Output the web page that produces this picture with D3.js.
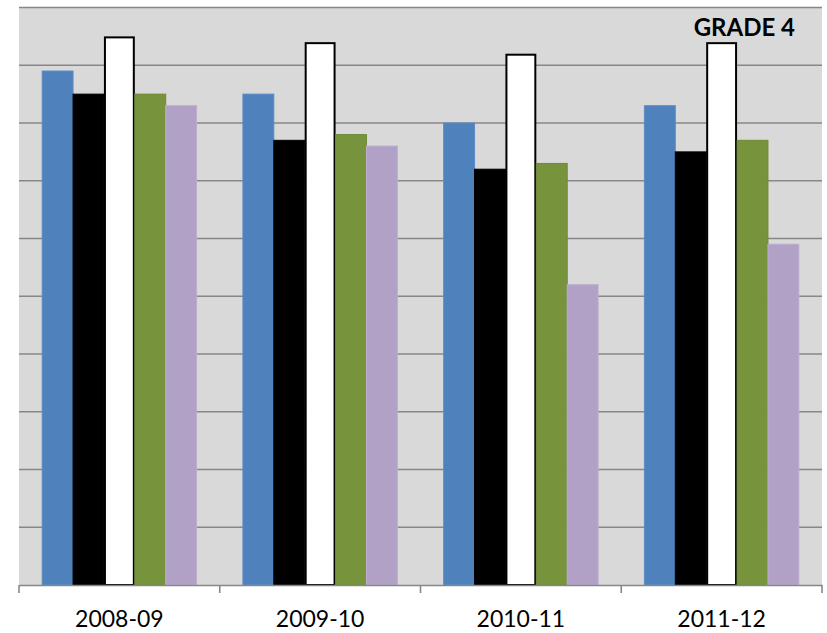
<!DOCTYPE html>
<html>
<head>
<meta charset="utf-8">
<script src="https://cdn.jsdelivr.net/npm/d3@7"></script>
<style>
  html, body { margin: 0; padding: 0; background: #ffffff; }
  svg { display: block; }
</style>
</head>
<body>
<svg id="chart" width="827" height="633"></svg>
<script>
// School years on the category axis
const categories = ["2008-09", "2009-10", "2010-11", "2011-12"];

// One series per bar within each year (percent)
const seriesNames = ["Series 1", "Series 2", "Series 3", "Series 4", "Series 5"];
const series1 = [89, 85, 80, 83];
const series2 = [85, 77, 72, 75];
const series3 = [95, 94, 92, 94];
const series4 = [85, 78, 73, 77];
const series5 = [83, 76, 52, 59];
const seriesValues = [series1, series2, series3, series4, series5];

const gridTicks = [0, 10, 20, 30, 40, 50, 60, 70, 80, 90, 100];
const chartTitle = "GRADE 4";

const fills   = ["#4f81bd", "#000000", "#ffffff", "#77933c", "#b2a1c7"];
const strokes = ["#5b8cc6", "#000000", "#000000", "#6f8a36", "#bcadd0"];
const strokeW = [1, 1, 2, 1, 1];

const svg = d3.select("#chart");
const plot = { left: 19, right: 822, top: 7.5, bottom: 585 };

const x0 = d3.scaleBand()
  .domain(categories)
  .range([plot.left, plot.right])
  .paddingInner(0)
  .paddingOuter(0);

const x1 = d3.scaleBand()
  .domain(d3.range(seriesNames.length))
  .range([0, x0.bandwidth()])
  .paddingInner(0)
  .paddingOuter(0.75);

const y = d3.scaleLinear()
  .domain([0, 100])
  .range([plot.bottom, plot.top]);

// Plot background
svg.append("rect")
  .attr("x", plot.left)
  .attr("y", plot.top)
  .attr("width", plot.right - plot.left)
  .attr("height", plot.bottom - plot.top)
  .attr("fill", "#d9d9d9");

// Horizontal gridlines
svg.append("g")
  .selectAll("line")
  .data(gridTicks.slice(1))
  .join("line")
  .attr("x1", plot.left)
  .attr("x2", plot.right)
  .attr("y1", d => y(d))
  .attr("y2", d => y(d))
  .attr("stroke", "#878787")
  .attr("stroke-width", 1.6);

// Bars
const rows = categories.map((c, i) => ({
  cat: c,
  vals: seriesValues.map((s, j) => ({ j, v: s[i] }))
}));

const groups = svg.append("g")
  .selectAll("g")
  .data(rows)
  .join("g")
  .attr("transform", d => `translate(${x0(d.cat)},0)`);

groups.selectAll("rect")
  .data(d => d.vals)
  .join("rect")
  .attr("x", d => x1(d.j) + (d.j === 2 ? 1 : 0))
  .attr("y", d => y(d.v) + (d.j === 2 ? 1 : 0))
  .attr("width", d => x1.bandwidth() - (d.j === 2 ? 2 : 0))
  .attr("height", d => y(0) - y(d.v) - (d.j === 2 ? 1 : 0))
  .attr("fill", d => fills[d.j])
  .attr("stroke", d => strokes[d.j])
  .attr("stroke-width", d => strokeW[d.j]);

// Category axis
const xAxis = d3.axisBottom(x0).tickSize(0).tickPadding(25.5);
const axisG = svg.append("g")
  .attr("transform", `translate(0,${plot.bottom})`)
  .call(xAxis);
axisG.select(".domain")
  .attr("stroke", "#878787")
  .attr("stroke-width", 1.6);
axisG.selectAll(".tick text")
  .attr("font-family", "Lato, 'Open Sans', sans-serif")
  .attr("font-size", 23)
  .attr("fill", "#000");

// Tick marks at category boundaries
const boundaries = categories.map(c => x0(c)).concat([x0(categories[categories.length - 1]) + x0.bandwidth()]);
svg.append("g")
  .selectAll("line")
  .data(boundaries)
  .join("line")
  .attr("x1", d => d)
  .attr("x2", d => d)
  .attr("y1", plot.bottom)
  .attr("y2", plot.bottom + 8)
  .attr("stroke", "#878787")
  .attr("stroke-width", 1.6);

// Title
svg.append("text")
  .attr("x", 795)
  .attr("y", 36)
  .attr("text-anchor", "end")
  .attr("font-family", "Lato, 'Open Sans', sans-serif")
  .attr("font-weight", "bold")
  .attr("font-size", 24)
  .attr("fill", "#000")
  .text(chartTitle);
</script>
</body>
</html>
